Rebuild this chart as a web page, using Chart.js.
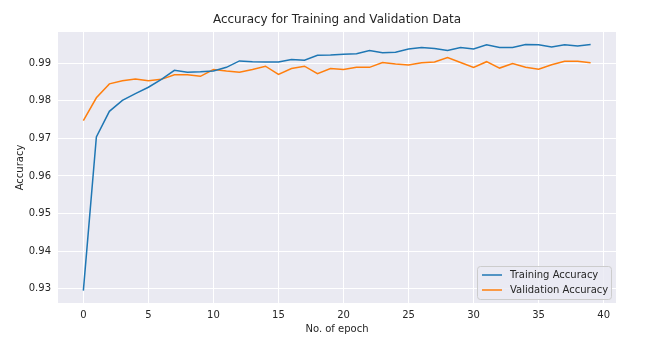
<!DOCTYPE html>
<html>
<head>
<meta charset="utf-8">
<script src="https://cdn.jsdelivr.net/npm/chart.js@4.4.1/dist/chart.umd.min.js"></script>
<style>
  body { margin: 0; background: #fff; }
  canvas { display: block; }
</style>
</head>
<body>
<canvas id="accChart" width="650" height="351"></canvas>
<script>
// values
const epochs = [0,1,2,3,4,5,6,7,8,9,10,11,12,13,14,15,16,17,18,19,20,21,22,23,24,25,26,27,28,29,30,31,32,33,34,35,36,37,38,39];

const trainAcc = [0.9295, 0.9704, 0.9772, 0.9801, 0.9819, 0.9836, 0.9857, 0.9881, 0.9876, 0.9877,
                  0.9879, 0.9889, 0.9906, 0.9904, 0.9903, 0.9903, 0.9910, 0.9908, 0.9921, 0.9922,
                  0.9924, 0.9925, 0.9934, 0.9928, 0.9929, 0.9938, 0.9942, 0.9939, 0.9934, 0.9942,
                  0.9938, 0.9949, 0.9942, 0.9942, 0.9950, 0.9949, 0.9943, 0.9949, 0.9946, 0.9950];

const valAcc = [0.9747, 0.9808, 0.9845, 0.9853, 0.9858, 0.9853, 0.9857, 0.9869, 0.9869, 0.9865,
                0.9883, 0.9879, 0.9876, 0.9883, 0.9892, 0.9870, 0.9886, 0.9892, 0.9872, 0.9886,
                0.9883, 0.9889, 0.9889, 0.9902, 0.9898, 0.9895, 0.9901, 0.9903, 0.9915, 0.9902,
                0.9889, 0.9904, 0.9887, 0.9899, 0.9889, 0.9884, 0.9896, 0.9905, 0.9905, 0.9901];

const xTicks = [0, 5, 10, 15, 20, 25, 30, 35, 40];
const yTicks = [0.93, 0.94, 0.95, 0.96, 0.97, 0.98, 0.99];

const TEXT = '#262626';
const FONT = 'DejaVu Sans';

// grey plot background, like seaborn darkgrid
const plotBg = {
  id: 'plotBg',
  beforeDraw(chart) {
    const { ctx, chartArea: a } = chart;
    ctx.save();
    ctx.fillStyle = '#fff';
    ctx.fillRect(0, 0, chart.width, chart.height);
    ctx.fillStyle = '#EAEAF2';
    ctx.fillRect(a.left, a.top, a.right - a.left, a.bottom - a.top);
    ctx.restore();
  }
};

// legend in the lower right corner, inside the axes
const cornerLegend = {
  id: 'cornerLegend',
  afterDraw(chart) {
    const { ctx, chartArea: a } = chart;
    const w = 134, h = 33;
    const x = a.right - 5 - w, y = a.bottom - 4 - h;
    ctx.save();
    ctx.beginPath();
    ctx.roundRect(x + 0.5, y + 0.5, w, h, 3);
    ctx.fillStyle = 'rgba(234,234,242,0.8)';
    ctx.fill();
    ctx.strokeStyle = '#cccccc';
    ctx.lineWidth = 1;
    ctx.stroke();
    ctx.font = '10px ' + FONT;
    ctx.textBaseline = 'middle';
    chart.data.datasets.forEach((ds, i) => {
      const ly = y + 9 + i * 15;
      ctx.strokeStyle = ds.borderColor;
      ctx.lineWidth = 1.5;
      ctx.beginPath();
      ctx.moveTo(x + 5, ly);
      ctx.lineTo(x + 25, ly);
      ctx.stroke();
      ctx.fillStyle = TEXT;
      ctx.fillText(ds.label, x + 33, ly);
    });
    ctx.restore();
  }
};

new Chart(document.getElementById('accChart'), {
  type: 'line',
  data: {
    datasets: [{
      label: 'Training Accuracy',
      data: epochs.map((e, i) => ({ x: e, y: trainAcc[i] })),
      borderColor: '#1f77b4',
      borderWidth: 1.5,
      pointRadius: 0,
      tension: 0
    }, {
      label: 'Validation Accuracy',
      data: epochs.map((e, i) => ({ x: e, y: valAcc[i] })),
      borderColor: '#ff7f0e',
      borderWidth: 1.5,
      pointRadius: 0,
      tension: 0
    }]
  },
  options: {
    responsive: false,
    devicePixelRatio: 1,
    animation: false,
    layout: { padding: { left: 0, right: 34, top: 0, bottom: 0 } },
    plugins: {
      legend: { display: false },
      tooltip: { enabled: false },
      title: {
        display: true,
        text: 'Accuracy for Training and Validation Data',
        fullSize: false,
        color: TEXT,
        font: { family: FONT, size: 12, weight: 'normal' },
        padding: { top: 13, bottom: 4.6 }
      }
    },
    scales: {
      x: {
        type: 'linear',
        min: -1.95,
        max: 40.95,
        afterBuildTicks: s => { s.ticks = xTicks.map(v => ({ value: v })); },
        afterFit: s => { s.height = 48; },
        grid: { color: '#ffffff', lineWidth: 1, drawTicks: false },
        border: { display: false },
        ticks: { color: TEXT, font: { family: FONT, size: 10 }, padding: 6, maxRotation: 0 },
        title: {
          display: true, text: 'No. of epoch', color: TEXT,
          font: { family: FONT, size: 10 }, padding: { top: 0, bottom: 16 }
        }
      },
      y: {
        min: 0.9262,
        max: 0.9983,
        afterBuildTicks: s => { s.ticks = yTicks.map(v => ({ value: v })); },
        afterFit: s => { s.width = 58; },
        grid: { color: '#ffffff', lineWidth: 1, drawTicks: false },
        border: { display: false },
        ticks: {
          color: TEXT, font: { family: FONT, size: 10 }, padding: 7,
          callback: v => v.toFixed(2)
        },
        title: {
          display: true, text: 'Accuracy', color: TEXT,
          font: { family: FONT, size: 10 }, padding: { top: 14, bottom: 0 }
        }
      }
    }
  },
  plugins: [plotBg, cornerLegend]
});
</script>
</body>
</html>
